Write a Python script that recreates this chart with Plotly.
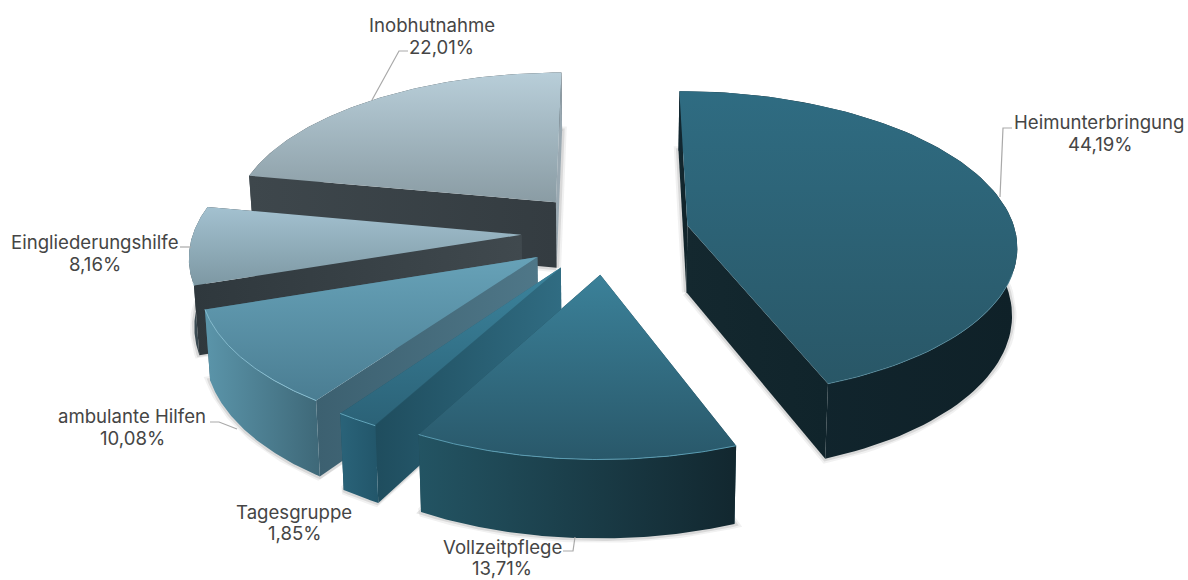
import math
import plotly.graph_objects as go

# Share of placements per help type, percent, clockwise from twelve o'clock
categories = ["Heimunterbringung", "Vollzeitpflege", "Tagesgruppe",
              "ambulante Hilfen", "Eingliederungshilfe", "Inobhutnahme"]
shares = [44.19, 13.71, 1.85, 10.08, 8.16, 22.01]

# Explosion of each wedge as a fraction of the radius
pulls = [0.235, 0.26, 0.26, 0.26, 0.27, 0.26]
# Fine placement of each wedge on the page, in pixels
nudges = [(2, 0), (-4, 2), (-3, 1), (-3, 1), (0, 0), (-1, 0)]

# Colours: top face (upper, lower), outer wall (left, right),
# cut wall at the wedge's start and at its end (left, right)
top_colors = [("#2f6c82", "#295767"), ("#3b8199", "#29586a"), ("#3c849d", "#2b6277"),
              ("#67a2b8", "#4a7d92"), ("#a3c1d0", "#7d98a3"), ("#b8ced9", "#8a9ca4")]
arc_colors = [("#122730", "#0f2128"), ("#235463", "#12272f"), ("#2a6379", "#22566a"),
              ("#5b95aa", "#3e6878"), ("#3c4f58", "#333c41"), ("#3e474c", "#353d42")]
start_cut_colors = [("#14282f", "#10242b"), ("#1e4554", "#1e4554"), ("#1f4d5e", "#306c82"),
                    ("#3c6070", "#4f7788"), ("#2f383d", "#40494e"), ("#3e474c", "#343c41")]
end_cut_colors = [("#14282f", "#10242b"), ("#1e4554", "#1e4554"), ("#1f4d5e", "#306c82"),
                  ("#3c6070", "#4f7788"), ("#2f383d", "#40494e"), ("#9aa9b2", "#9aa9b2")]
highlights = ["rgba(90,150,170,0.6)", "#5a9cb2", "#62a5bb", "#86bccf",
              "#b5cfda", "#c8d8e0"]

# Leader lines and label anchors, in page pixels
leaders = [[(1000, 197), (1003, 128), (1012, 128)],
           [(575, 537), (573, 551), (563, 551)],
           [],
           [(237, 429), (219, 422), (210, 422)],
           [(191, 247), (180, 247)],
           [(372, 100), (399, 51), (408, 51)]]
label_pos = [(1099, 122, 1100, 144), (502, 547, 502, 568), (294, 512, 295, 533),
             (132, 416, 132, 438), (95, 242, 95, 264), (432, 25, 441, 47)]

# Projection of the tilted disc onto the page
CX, CY = 610, 232
RX, RY = 328, 152
PERSP = 0.12
DEPTH = 67
TAPER = 0.987
PAINT_ORDER = [0, 5, 4, 3, 2, 1]


def project(x, y, low=False, nudge=(0, 0)):
    w = 1 - PERSP * y
    px, py = RX * x / w, RY * y / w
    if low:
        return CX + px * TAPER + nudge[0], CY + py + DEPTH / w + nudge[1]
    return CX + px + nudge[0], CY + py + nudge[1]


def wedge_outline(start, end, pull, n=90):
    mid = (start + end) / 2
    ox, oy = pull * math.sin(mid), -pull * math.cos(mid)
    arc = []
    for i in range(n + 1):
        t = start + (end - start) * i / n
        arc.append((ox + math.sin(t), oy - math.cos(t)))
    return (ox, oy), arc


def polygon_trace(points, colors, kind):
    # Plotly starts a vertical gradient at the page bottom on this flipped axis
    stops = colors[::-1] if kind == "vertical" else colors
    xs = [p[0] for p in points] + [points[0][0]]
    ys = [p[1] for p in points] + [points[0][1]]
    return go.Scatter(x=xs, y=ys, mode="lines", line=dict(width=0), fill="toself",
                      fillgradient=dict(type=kind,
                                        colorscale=[[0, stops[0]], [1, stops[1]]]),
                      hoverinfo="skip", showlegend=False)


fig = go.Figure()
total = sum(shares)
angles = [0]
for v in shares:
    angles.append(angles[-1] + v / total * 2 * math.pi)

for i in PAINT_ORDER:
    apex, arc = wedge_outline(angles[i], angles[i + 1], pulls[i])
    nudge = nudges[i]

    # Soft contact shadow around the lower rim
    low = [project(x, y, True, nudge) for x, y in [apex] + arc + [apex]]
    for width, alpha in ((9, 0.07), (5, 0.13)):
        fig.add_trace(go.Scatter(x=[p[0] for p in low], y=[p[1] for p in low], mode="lines",
                                 line=dict(width=width, color=f"rgba(60,60,60,{alpha})"),
                                 hoverinfo="skip", showlegend=False))

    # Walls, far ones first
    def cut_wall(rim):
        return [project(*apex, False, nudge), project(*rim, False, nudge),
                project(*rim, True, nudge), project(*apex, True, nudge)]

    arc_wall = ([project(*p, False, nudge) for p in arc]
                + [project(*p, True, nudge) for p in reversed(arc)])
    walls = [(cut_wall(arc[0]), start_cut_colors[i]), (cut_wall(arc[-1]), end_cut_colors[i]),
             (arc_wall, arc_colors[i])]
    walls.sort(key=lambda w: sum(p[1] for p in w[0]) / len(w[0]))
    for pts, cols in walls:
        fig.add_trace(polygon_trace(pts, cols, "horizontal"))

    # Top face with a fine light rim on the near side
    top = [project(*apex, False, nudge)] + [project(*p, False, nudge) for p in arc]
    fig.add_trace(polygon_trace(top, top_colors[i], "vertical"))
    near = [project(*p, False, nudge) for k, p in enumerate(arc)
            if -math.cos(angles[i] + (angles[i + 1] - angles[i]) * k / 90) > 0.3]
    if near:
        fig.add_trace(go.Scatter(x=[p[0] for p in near], y=[p[1] for p in near], mode="lines",
                                 line=dict(width=1, color=highlights[i]),
                                 hoverinfo="skip", showlegend=False))

for pts in leaders:
    if pts:
        fig.add_trace(go.Scatter(x=[p[0] for p in pts], y=[p[1] for p in pts], mode="lines",
                                 line=dict(width=1.2, color="#a9a9a9"),
                                 hoverinfo="skip", showlegend=False))

LABEL_FONT = dict(family="Inter, Lato, sans-serif", size=18.6, color="#454545")
for name, v, (x1, y1, x2, y2) in zip(categories, shares, label_pos):
    fig.add_annotation(x=x1, y=y1, text=name, showarrow=False, font=LABEL_FONT,
                       xanchor="center", yanchor="middle")
    fig.add_annotation(x=x2, y=y2, text=f"{v:.2f}%".replace(".", ","), showarrow=False,
                       font=LABEL_FONT, xanchor="center", yanchor="middle")

fig.update_xaxes(range=[0, 1188], visible=False, fixedrange=True)
fig.update_yaxes(range=[580, 0], visible=False, fixedrange=True)
fig.update_layout(width=1188, height=580, autosize=False,
                  margin=dict(l=0, r=0, t=0, b=0),
                  paper_bgcolor="white", plot_bgcolor="white")
fig.write_html("out.html", config=dict(displayModeBar=False))
